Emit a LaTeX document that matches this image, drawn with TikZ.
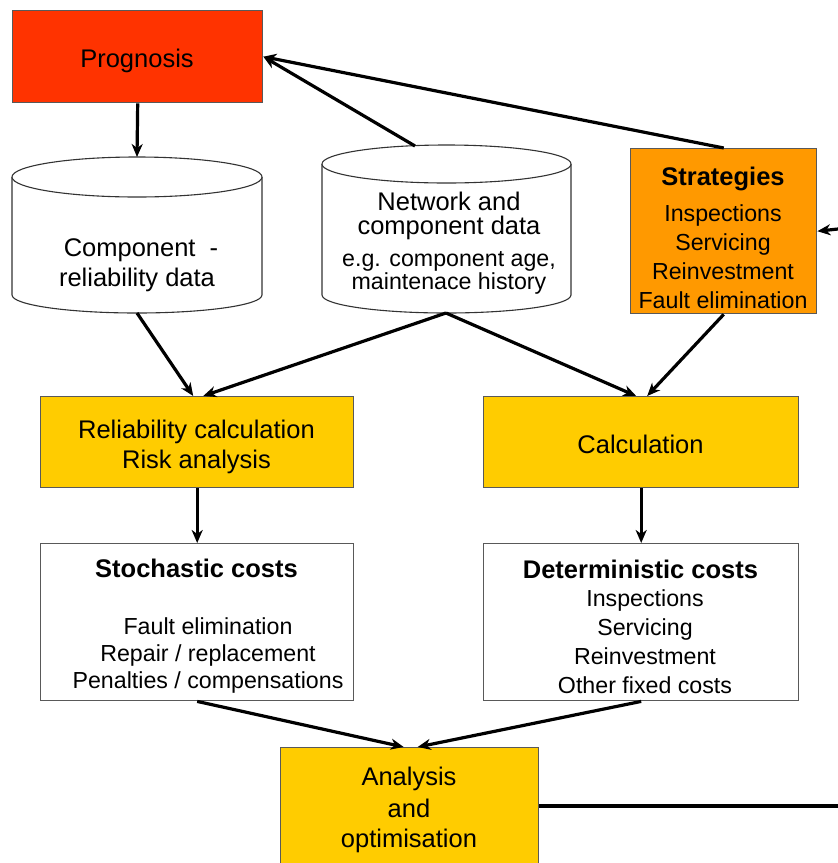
\documentclass[tikz,border=0pt]{standalone}
\usepackage{fontspec}
\setmainfont{Liberation Sans}
\usetikzlibrary{arrows.meta}
\definecolor{progred}{HTML}{FF3300}
\definecolor{stratorange}{HTML}{FF9900}
\definecolor{calcyellow}{HTML}{FFCC00}
\newcommand\bigtxt{\fontsize{25.5}{30}\selectfont}
\newcommand\smalltxt{\fontsize{23.2}{28}\selectfont}

\begin{document}
\begin{tikzpicture}[x=1pt,y=-1pt,
  box/.style={draw=black!65, line width=1.4pt, inner sep=0pt, anchor=north west},
  drumline/.style={draw=black!80, line width=1.1pt, fill=white},
  big/.style={font=\bigtxt, inner sep=0pt, anchor=base},
  bigb/.style={font=\bigtxt\bfseries, inner sep=0pt, anchor=base},
  small/.style={font=\smalltxt, inner sep=0pt, anchor=base},
  arr/.style={line width=3.2pt, -{Stealth[length=13pt,width=11pt,inset=4pt]}},
  plain/.style={line width=3.2pt}
]
\useasboundingbox (0,0) rectangle (838,863);

% boxes
\node[box, fill=progred, minimum width=250pt, minimum height=92pt] (prog) at (12,10) {};
\node[box, fill=stratorange, minimum width=186pt, minimum height=165pt] (strat) at (630,148) {};
\node[box, fill=calcyellow, minimum width=313pt, minimum height=91pt] (rel) at (40,396) {};
\node[box, fill=calcyellow, minimum width=315pt, minimum height=91pt] (calc) at (483,396) {};
\node[box, fill=white, minimum width=313pt, minimum height=157pt] (stoch) at (40,543) {};
\node[box, fill=white, minimum width=315pt, minimum height=157pt] (det) at (483,543) {};
\node[box, fill=calcyellow, minimum width=258pt, minimum height=130pt] (ana) at (280,747) {};

% data stores
\filldraw[drumline] (12,177) -- (12,295)
  arc[start angle=180, end angle=0, x radius=125, y radius=18] -- (262,177);
\filldraw[drumline] (137,177) ellipse [x radius=125, y radius=20];
\filldraw[drumline] (322,164) -- (322,295)
  arc[start angle=180, end angle=0, x radius=124.5, y radius=18] -- (571,164);
\filldraw[drumline] (446.5,164) ellipse [x radius=124.5, y radius=19];

\coordinate (c1top) at (137,157);
\coordinate (c1bot) at (137,313);
\coordinate (c2top) at (415,146);
\coordinate (c2bot) at (446,313);
\coordinate (edgeR) at (838,229);
\coordinate (edgeB) at (838,806);

% texts
\node[big] (progT) at (137,67) {Prognosis};
\node[big] (c1a) at (141,256) {Component\ \ -};
\node[big] (c1b) at (137,286) {reliability data};
\node[big] (c2a) at (449,210) {Network and};
\node[big] (c2b) at (449,234) {component data};
\node[small] (c2c) at (449,266) {e.g. component age,};
\node[small] (c2d) at (449,289) {maintenace history};
\node[bigb] (stratT) at (723,185) {Strategies};
\foreach \t [count=\i] in {Inspections, Servicing, Reinvestment, Fault elimination}
  \node[small] (strat\i) at (723,{221+(\i-1)*29}) {\t};
\node[big] (relA) at (196.5,438) {Reliability calculation};
\node[big] (relB) at (196.5,468) {Risk analysis};
\node[big] (calcT) at (640.5,453) {Calculation};
\node[bigb] (stochT) at (196.5,577) {Stochastic costs};
\foreach \t [count=\i] in {Fault elimination, Repair / replacement, Penalties / compensations}
  \node[small] (stoch\i) at (208,{634+(\i-1)*27}) {\t};
\node[bigb] (detT) at (640.5,578) {Deterministic costs};
\foreach \t [count=\i] in {Inspections, Servicing, Reinvestment, Other fixed costs}
  \node[small] (det\i) at (645,{606+(\i-1)*29}) {\t};
\node[big] (anaA) at (409,785) {Analysis};
\node[big] (anaB) at (409,817) {and};
\node[big] (anaC) at (409,847) {optimisation};

% connectors
\draw[arr] (prog.south) -- (c1top);
\draw[arr] (c2top) -- (prog.east);
\draw[arr] (strat.north) -- (prog.east);
\draw[arr] (edgeR) -- (strat.east);
\draw[arr] (c1bot) -- ([xshift=-4pt]rel.north);
\draw[arr] (c2bot) -- ([xshift=6pt]rel.north);
\draw[arr] (c2bot) -- ([xshift=-5pt]calc.north);
\draw[arr] (strat.south) -- ([xshift=6pt]calc.north);
\draw[arr] (rel.south) -- (stoch.north);
\draw[arr] (calc.south) -- (det.north);
\draw[arr] (stoch.south) -- ([xshift=-6pt]ana.north);
\draw[arr] (det.south) -- ([xshift=8pt]ana.north);
\draw[plain] (ana.east |- edgeB) -- (edgeB);
\end{tikzpicture}
\end{document}
